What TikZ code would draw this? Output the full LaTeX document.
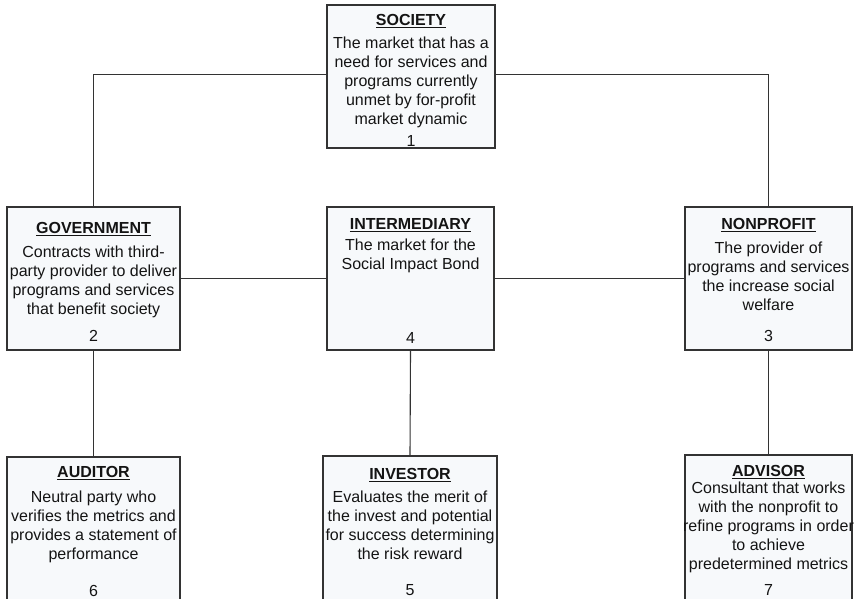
\documentclass[tikz,border=0pt]{standalone}
\usepackage{fontspec}
\setmainfont{Liberation Sans}
\usepackage{tikz}
\usetikzlibrary{positioning}
\definecolor{boxfill}{HTML}{F7F9FB}
\definecolor{boxline}{HTML}{333333}
\tikzset{
    sibbox/.style={draw=boxline, line width=1.3pt, fill=boxfill, rectangle, inner sep=0pt},
    boxtext/.style={align=center, inner sep=0pt, font=\fontsize{16}{19}\selectfont, text=black!92},
    boxnum/.style={inner sep=0pt, font=\fontsize{16}{19}\selectfont, text=black!92},
    link/.style={draw=boxline, line width=1.1pt}}
\newcommand{\boxhead}[1]{\underline{\textbf{#1}}}

\begin{document}
\begin{tikzpicture}[x=1pt,y=-1pt]
\useasboundingbox (0,0) rectangle (858,598);
\clip (0,0) rectangle (858,598);

%Boxes
\node[sibbox, minimum width=168pt, minimum height=143pt] (society) at (411,76.5) {};
\node[sibbox, minimum width=173pt, minimum height=143pt] (government) at (93.5,278.5) {};
\node[sibbox, minimum width=167pt, minimum height=143pt] (intermediary) at (410.5,278.5) {};
\node[sibbox, minimum width=167pt, minimum height=143pt] (nonprofit) at (768.5,278.5) {};
\node[sibbox, minimum width=173pt, minimum height=147pt] (auditor) at (93.5,530.5) {};
\node[sibbox, minimum width=174pt, minimum height=148pt] (investor) at (410,530) {};
\node[sibbox, minimum width=167pt, minimum height=149pt] (advisor) at (768.5,529.5) {};

%Links
\draw[link] ([yshift=2pt]society.west) -| (government.north);
\draw[link] ([yshift=2pt]society.east) -| (nonprofit.north);
\draw[link] (government.east) -- (intermediary.west);
\draw[link] (intermediary.east) -- (nonprofit.west);
\draw[link] (government.south) -- (auditor.north);
\draw[link] (intermediary.south) -- (investor.north);
\draw[link] (nonprofit.south) -- (advisor.north);

%Texts
\node[boxtext, below=10pt of society.north] (societytext) {\boxhead{SOCIETY}\\[4pt]
  The market that has a\\ need for services and\\ programs currently\\ unmet by for-profit\\ market dynamic};
\node[boxtext, below=16pt of government.north] (governmenttext) {\boxhead{GOVERNMENT}\\[5pt]
  Contracts with third-\\ party provider to deliver\\ programs and services\\ that benefit society};
\node[boxtext, below=12pt of intermediary.north] (intermediarytext) {\boxhead{INTERMEDIARY}\\[2pt]
  The market for the\\ Social Impact Bond};
\node[boxtext, below=12pt of nonprofit.north] (nonprofittext) {\boxhead{NONPROFIT}\\[5pt]
  The provider of\\ programs and services\\ the increase social\\ welfare};
\node[boxtext, below=10pt of auditor.north] (auditortext) {\boxhead{AUDITOR}\\[6pt]
  Neutral party who\\ verifies the metrics and\\ provides a statement of\\ performance};
\node[boxtext, below=13pt of investor.north] (investortext) {\boxhead{INVESTOR}\\[4pt]
  Evaluates the merit of\\ the invest and potential\\ for success determining\\ the risk reward};
\node[boxtext, below=11pt of advisor.north] (advisortext) {\boxhead{ADVISOR}\\[-2pt]
  Consultant that works\\ with the nonprofit to\\ refine programs in order\\ to achieve\\ predetermined metrics};

%Numbers
\node[boxnum, above=2pt of society.south] (societynum) {1};
\node[boxnum, above=9pt of government.south] (governmentnum) {2};
\node[boxnum, above=9pt of nonprofit.south] (nonprofitnum) {3};
\node[boxnum, above=7pt of intermediary.south] (intermediarynum) {4};
\node[boxnum, above=9pt of investor.south] (investornum) {5};
\node[boxnum, above=8pt of auditor.south] (auditornum) {6};
\node[boxnum, above=9pt of advisor.south] (advisornum) {7};

\end{tikzpicture}
\end{document}
